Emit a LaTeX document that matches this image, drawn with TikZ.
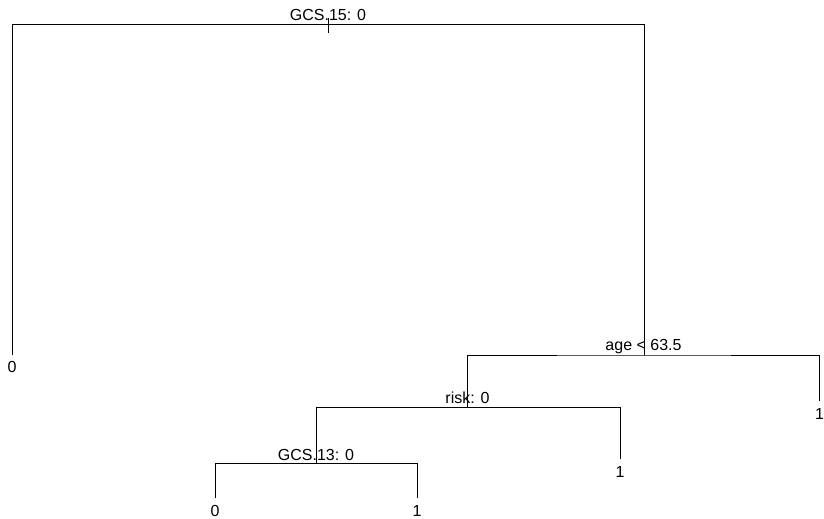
\documentclass[tikz,border=0pt]{standalone}
\usepackage{fontspec}
\setmainfont{Liberation Sans}
\usetikzlibrary{positioning}
\tikzset{
  ag/.style={line width=1pt},
  feltetel/.style={font=\fontsize{16}{18}\selectfont,anchor=base,inner sep=0pt},
  level/.style={font=\fontsize{16}{18}\selectfont,anchor=north,inner xsep=0pt,inner ysep=7pt},
}

\begin{document}
\begin{tikzpicture}[x=1pt,y=-1pt]
  \useasboundingbox (0,0) rectangle (824,519);
  % elagazasok
  \coordinate (gyoker) at (328,24.5);
  \coordinate (kor) at (644.5,355);
  \coordinate (kockazat) at (467.5,407.7);
  \coordinate (gcs) at (316,463.3);
  \node[feltetel] (tgyoker) at (328,20.5) {GCS.15: 0};
  \node[feltetel] (tkor) at (643.5,350.5) {age < 63.5};
  \node[feltetel] (tkockazat) at (467.5,403.2) {risk: 0};
  \node[feltetel] (tgcs) at (316,460) {GCS.13: 0};
  % levelek
  \node[level] (l1) at (12,354.5) {0};
  \node[level] (l2) at (819.5,401) {1};
  \node[level] (l3) at (620,459) {1};
  \node[level] (l4) at (215,498) {0};
  \node[level] (l5) at (417,498) {1};
  % agak
  \draw[ag] (gyoker) ++(0,-6.5) -- ++(0,15);
  \draw[ag] (l1.north) |- (gyoker) -| (kor);
  \draw[ag] (kockazat) |- (kor) -| (l2.north);
  \draw[ag] (gcs) |- (kockazat) -| (l3.north);
  \draw[ag] (l4.north) |- (gcs) -| (l5.north);
\end{tikzpicture}
\end{document}
